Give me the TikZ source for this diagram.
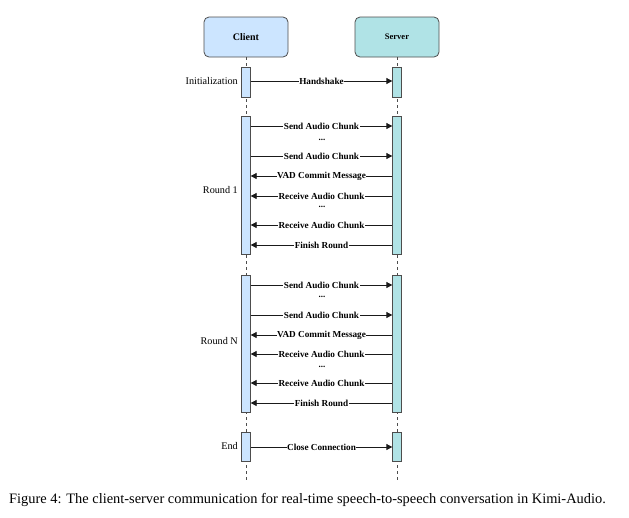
\documentclass[tikz,border=0pt]{standalone}
\usepackage{fontspec}
\setmainfont{Liberation Serif}
\usetikzlibrary{arrows.meta}
\definecolor{cfill}{HTML}{CCE5FF}
\definecolor{sfill}{HTML}{B0E3E6}
\definecolor{bord}{HTML}{4D4D4D}
\definecolor{ln}{HTML}{1A1A1A}
\tikzset{
  head/.style={draw=bord, line width=0.8pt, rounded corners=5pt, minimum width=84pt, minimum height=40pt, font=\bfseries},
  actbox/.style={draw=bord, line width=0.8pt, minimum width=8.5pt, inner sep=0pt, anchor=north},
  life/.style={draw=bord, dashed, dash pattern=on 3pt off 3pt, line width=0.6pt},
  msg/.style={draw=ln, line width=0.8pt, -{Triangle[length=6pt,width=6pt]}},
  lab/.style={font=\bfseries\fontsize{9.2}{11}\selectfont, fill=white, inner sep=0.5pt, text=black},
  dots/.style={font=\bfseries\fontsize{9}{10}\selectfont, inner sep=0pt},
  side/.style={font=\fontsize{10.2}{12}\selectfont, anchor=east, inner sep=0pt}
}
\begin{document}
\begin{tikzpicture}[x=1pt,y=-1pt]
\useasboundingbox (0,0) rectangle (629,517);
% headers
\node[head, fill=cfill, font=\bfseries\fontsize{10}{12}\selectfont] (client) at (246,37) {Client};
\node[head, fill=sfill, font=\bfseries\fontsize{8.5}{10}\selectfont] (server) at (397,37) {Server};
\coordinate (cend) at (246,480);
\coordinate (send) at (397,480);
\draw[life] (client.south) -- (cend);
\draw[life] (server.south) -- (send);
% activation boxes
\node[actbox, fill=cfill, minimum height=30pt] (c0) at (246,67) {};
\node[actbox, fill=sfill, minimum height=30pt] (s0) at (397,67) {};
\node[actbox, fill=cfill, minimum height=138pt] (c1) at (246,116) {};
\node[actbox, fill=sfill, minimum height=138pt] (s1) at (397,116) {};
\node[actbox, fill=cfill, minimum height=137pt] (c2) at (246,275) {};
\node[actbox, fill=sfill, minimum height=137pt] (s2) at (397,275) {};
\node[actbox, fill=cfill, minimum height=29pt] (c3) at (246,432) {};
\node[actbox, fill=sfill, minimum height=29pt] (s3) at (397,432) {};
% side labels
\node[side] (l0) at (238,81) {Initialization};
\node[side] (l1) at (238,190) {Round 1};
\node[side] (l2) at (238,341) {Round N};
\node[side] (l3) at (238,446) {End};
% message rows
\coordinate (y0) at (0,81);
\coordinate (a1) at (0,126); \coordinate (a2) at (0,156); \coordinate (a3) at (0,176);
\coordinate (a4) at (0,196); \coordinate (a5) at (0,225); \coordinate (a6) at (0,245);
\coordinate (b1) at (0,285); \coordinate (b2) at (0,315); \coordinate (b3) at (0,335);
\coordinate (b4) at (0,354); \coordinate (b5) at (0,383); \coordinate (b6) at (0,403);
\coordinate (y3) at (0,447);
\draw[msg] (c0.east |- y0) -- node[lab] (h) {Handshake} (s0.west |- y0);
% round 1
\draw[msg] (c1.east |- a1) -- node[lab] (r1a) {Send Audio Chunk} (s1.west |- a1);
\node[dots] (d1a) at (322,140) {...};
\draw[msg] (c1.east |- a2) -- node[lab] (r1b) {Send Audio Chunk} (s1.west |- a2);
\draw[msg] (s1.west |- a3) -- node[lab] (r1c) {VAD Commit Message} (c1.east |- a3);
\draw[msg] (s1.west |- a4) -- node[lab] (r1d) {Receive Audio Chunk} (c1.east |- a4);
\node[dots] (d1b) at (322,207) {...};
\draw[msg] (s1.west |- a5) -- node[lab] (r1e) {Receive Audio Chunk} (c1.east |- a5);
\draw[msg] (s1.west |- a6) -- node[lab] (r1f) {Finish Round} (c1.east |- a6);
% round N
\draw[msg] (c2.east |- b1) -- node[lab] (r2a) {Send Audio Chunk} (s2.west |- b1);
\node[dots] (d2a) at (322,297) {...};
\draw[msg] (c2.east |- b2) -- node[lab] (r2b) {Send Audio Chunk} (s2.west |- b2);
\draw[msg] (s2.west |- b3) -- node[lab] (r2c) {VAD Commit Message} (c2.east |- b3);
\draw[msg] (s2.west |- b4) -- node[lab] (r2d) {Receive Audio Chunk} (c2.east |- b4);
\node[dots] (d2b) at (322,367) {...};
\draw[msg] (s2.west |- b5) -- node[lab] (r2e) {Receive Audio Chunk} (c2.east |- b5);
\draw[msg] (s2.west |- b6) -- node[lab] (r2f) {Finish Round} (c2.east |- b6);
% end
\draw[msg] (c3.east |- y3) -- node[lab] (cc) {Close Connection} (s3.west |- y3);
% caption
\node[font=\fontsize{14.4}{17}\selectfont, inner sep=0pt] (cap) at (307.5,500) {Figure 4: The client-server communication for real-time speech-to-speech conversation in Kimi-Audio.};
\end{tikzpicture}
\end{document}
